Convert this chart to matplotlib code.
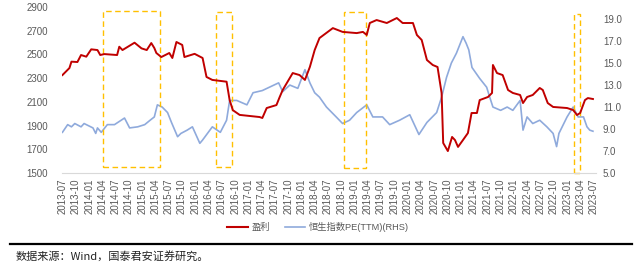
import pandas as pd
import matplotlib
matplotlib.use("Agg")
import matplotlib.pyplot as plt
import matplotlib.dates as mdates
from matplotlib.patches import Rectangle
from matplotlib.lines import Line2D

plt.rcParams["font.family"] = ["Liberation Sans", "Noto Sans CJK SC", "DejaVu Sans"]

# 盈利 (left axis)
profit_dates = [
    "2013-07-01", "2013-08-18", "2013-09-01", "2013-10-12", "2013-11-06", "2013-12-12",
    "2014-01-15", "2014-02-27", "2014-03-18", "2014-04-15", "2014-07-12", "2014-07-27",
    "2014-08-18", "2014-11-09", "2014-12-27", "2015-02-01", "2015-03-04", "2015-03-25",
    "2015-04-08", "2015-05-12", "2015-07-06", "2015-07-27", "2015-08-24", "2015-10-03",
    "2015-10-18", "2015-12-27", "2016-02-20", "2016-03-18", "2016-04-27", "2016-08-03",
    "2016-08-24", "2016-09-15", "2016-11-01", "2017-03-18", "2017-04-06", "2017-05-06",
    "2017-07-12", "2017-08-03", "2017-08-24", "2017-11-01", "2017-12-18", "2018-01-24",
    "2018-02-27", "2018-04-01", "2018-05-04", "2018-08-04", "2018-10-10", "2019-01-15",
    "2019-02-27", "2019-03-25", "2019-04-15", "2019-06-01", "2019-08-10", "2019-10-18",
    "2019-11-27", "2020-02-06", "2020-03-04", "2020-04-06", "2020-05-12", "2020-06-21",
    "2020-07-24", "2020-08-21", "2020-09-01", "2020-10-03", "2020-11-01", "2020-11-21",
    "2020-12-12", "2021-01-15", "2021-02-18", "2021-03-15", "2021-04-21", "2021-05-10",
    "2021-07-06", "2021-08-03", "2021-08-09", "2021-09-06", "2021-10-15", "2021-11-21",
    "2021-12-24", "2022-02-12", "2022-03-04", "2022-04-01", "2022-05-10", "2022-06-27",
    "2022-07-18", "2022-08-21", "2022-09-27", "2023-01-01", "2023-02-12", "2023-03-10",
    "2023-04-01", "2023-05-04", "2023-05-24", "2023-06-28",
]
profit = [
    2326, 2385, 2439, 2436, 2495, 2481,
    2543, 2537, 2495, 2503, 2495, 2565,
    2537, 2599, 2551, 2537, 2596, 2554,
    2512, 2478, 2512, 2470, 2605, 2580,
    2478, 2505, 2470, 2310, 2285, 2270,
    2115, 2030, 1990, 1972, 1964, 2048,
    2073, 2140, 2200, 2343, 2326, 2285,
    2395, 2537, 2638, 2722, 2690, 2680,
    2690, 2664, 2765, 2790, 2765, 2807,
    2765, 2765, 2664, 2622, 2453, 2411,
    2394, 2175, 1753, 1685, 1804, 1778,
    1720, 1778, 1837, 2006, 2006, 2115,
    2141, 2175, 2411, 2343, 2326, 2200,
    2175, 2158, 2090, 2141, 2158, 2217,
    2200, 2090, 2057, 2048, 2031, 1989,
    2006, 2115, 2132, 2124,
]

# 恒生指数PE(TTM) (right axis)
pe_dates = [
    "2013-07-01", "2013-08-06", "2013-09-01", "2013-09-24", "2013-11-06", "2013-11-27",
    "2014-01-27", "2014-02-15", "2014-02-27", "2014-03-25", "2014-05-06", "2014-06-24",
    "2014-09-01", "2014-10-06", "2014-12-01", "2015-01-18", "2015-02-24", "2015-03-25",
    "2015-04-15", "2015-05-18", "2015-06-24", "2015-07-21", "2015-09-01", "2015-09-24",
    "2015-11-06", "2015-12-12", "2016-02-01", "2016-02-20", "2016-04-27", "2016-06-21",
    "2016-08-03", "2016-08-24", "2016-10-12", "2016-12-21", "2017-02-01", "2017-04-06",
    "2017-05-24", "2017-07-27", "2017-08-24", "2017-10-12", "2017-12-06", "2018-01-24",
    "2018-02-27", "2018-04-01", "2018-05-04", "2018-06-21", "2018-08-27", "2018-10-10",
    "2018-11-27", "2019-01-15", "2019-03-25", "2019-05-06", "2019-07-12", "2019-08-30",
    "2019-11-06", "2020-01-15", "2020-03-18", "2020-05-12", "2020-07-18", "2020-08-21",
    "2020-09-24", "2020-10-27", "2020-12-01", "2021-01-15", "2021-02-06", "2021-02-24",
    "2021-03-18", "2021-05-10", "2021-06-27", "2021-07-18", "2021-08-09", "2021-10-01",
    "2021-11-15", "2021-12-24", "2022-02-12", "2022-03-04", "2022-04-01", "2022-05-10",
    "2022-06-27", "2022-08-15", "2022-09-27", "2022-10-21", "2022-11-06", "2023-01-01",
    "2023-02-12", "2023-03-18", "2023-04-24", "2023-05-18", "2023-06-06", "2023-06-28",
]
pe = [
    8.7, 9.4, 9.2, 9.5, 9.2, 9.5,
    9.1, 8.6, 9.1, 8.7, 9.4, 9.4,
    10.0, 9.1, 9.2, 9.4, 9.8, 10.1,
    11.2, 11.0, 10.5, 9.6, 8.3, 8.6,
    8.9, 9.2, 7.7, 8.0, 9.2, 8.7,
    9.8, 11.6, 11.6, 11.2, 12.3, 12.5,
    12.8, 13.2, 12.4, 13.0, 12.7, 14.4,
    13.2, 12.3, 11.9, 11.0, 10.1, 9.5,
    9.8, 10.5, 11.2, 10.1, 10.1, 9.4,
    9.8, 10.3, 8.5, 9.6, 10.5, 11.9,
    13.7, 15.0, 15.9, 17.4, 16.8, 16.2,
    14.6, 13.6, 12.8, 11.9, 11.0, 10.7,
    11.0, 10.7, 11.6, 8.9, 10.1, 9.5,
    9.8, 9.2, 8.6, 7.4, 8.6, 10.1,
    11.0, 10.1, 10.1, 9.2, 8.9, 8.8,
]

# highlighted periods (start, end)
box_starts = ["2014-04-03", "2016-05-24", "2018-10-19", "2023-02-21"]
box_ends = ["2015-05-06", "2016-09-12", "2019-03-21", "2023-04-03"]
box_bottoms = [1553, 1548, 1540, 1503]
box_tops = [2869, 2858, 2855, 2841]

red = "#C00000"
blue = "#8FAADC"
gold = "#FFC000"
grey = "#595959"

fig = plt.figure(figsize=(6.4, 2.66), dpi=100)
ax = fig.add_axes([62 / 640, 1 - 173 / 266, (596 - 62) / 640, 166 / 266])
ax2 = ax.twinx()
ax.set_zorder(ax2.get_zorder() + 1)
ax.patch.set_visible(False)

ax2.plot(pd.to_datetime(pe_dates), pe, color=blue, lw=1.2)
ax.plot(pd.to_datetime(profit_dates), profit, color=red, lw=1.4)

for s, e, b, t in zip(box_starts, box_ends, box_bottoms, box_tops):
    x0 = mdates.date2num(pd.Timestamp(s))
    x1 = mdates.date2num(pd.Timestamp(e))
    ax.add_patch(Rectangle((x0, b), x1 - x0, t - b, fill=False,
                           ec=gold, lw=1.0, ls=(0, (4, 2.5)), clip_on=False))

ax.set_xlim(pd.Timestamp("2013-06-28"), pd.Timestamp("2023-07-19"))
ax.set_ylim(1500, 2900)
ax.set_yticks(range(1500, 2901, 200))
ax2.set_ylim(5, 20.1)
ax2.set_yticks([5, 7, 9, 11, 13, 15, 17, 19])
ax2.set_yticklabels([f"{v:.1f}" for v in [5, 7, 9, 11, 13, 15, 17, 19]])

xt = pd.date_range("2013-07-01", "2023-07-01", freq="3MS")
ax.set_xticks(xt)
ax.set_xticklabels([d.strftime("%Y-%m") for d in xt], rotation=90, fontsize=6.6, color=grey)

for a in (ax, ax2):
    for sp in a.spines.values():
        sp.set_visible(False)
    a.tick_params(length=0, colors=grey, labelsize=7)
ax.spines["bottom"].set_visible(True)
ax.spines["bottom"].set_color("#D9D9D9")
ax.tick_params(axis="x", pad=4)
ax.tick_params(axis="y", pad=10)
ax2.tick_params(axis="y", pad=5)

handles = [Line2D([], [], color=red, lw=1.5), Line2D([], [], color=blue, lw=1.2)]
fig.legend(handles, ["盈利", "恒生指数PE(TTM)(RHS)"], loc="center",
           bbox_to_anchor=(318 / 640, 1 - 227 / 266), ncol=2, frameon=False,
           fontsize=6.7, labelcolor=grey, handlelength=2.2, columnspacing=1.6,
           handletextpad=0.4)

fig.add_artist(Line2D([10 / 640, 632 / 640], [1 - 244 / 266] * 2, color="black", lw=1.6))
fig.text(16 / 640, 1 - 256 / 266, "数据来源：Wind，国泰君安证券研究。", fontsize=8,
         color="#222222", va="center", family=["Noto Sans CJK SC", "DejaVu Sans"])

fig.savefig("out.png", dpi=100, facecolor="white")
